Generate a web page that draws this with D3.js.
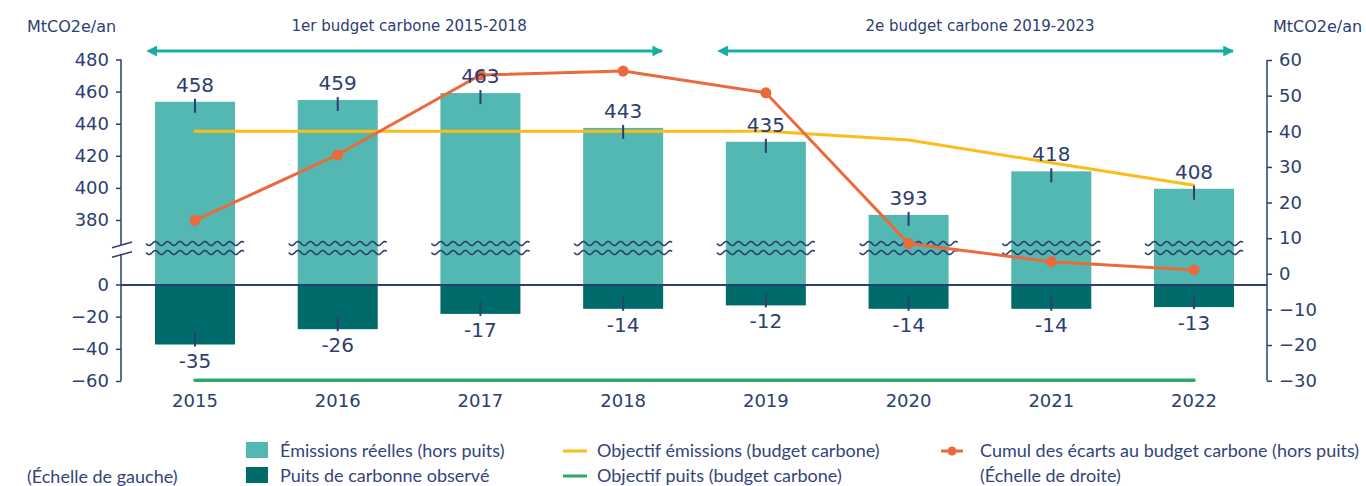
<!DOCTYPE html>
<meta charset="utf-8">
<style>
body { margin: 0; background: #fff; font-family: 'DejaVu Sans', sans-serif; }
.axis .domain { display: none; }
.axis text { font-family: 'DejaVu Sans', sans-serif; font-size: 18px; fill: #2d3e6f; }
.axis line { stroke: #2d3e6f; stroke-width: 1.5; }
.legend text { font-family: Lato, sans-serif; font-size: 18px; fill: #34447a; }
</style>
<svg width="1366" height="486"></svg>
<script src="https://d3js.org/d3.v7.min.js"></script>
<script>
// data
var years = ["2015", "2016", "2017", "2018", "2019", "2020", "2021", "2022"];
var emissions = [458, 459, 463, 443, 435, 393, 418, 408];
var puits = [-35, -26, -17, -14, -12, -14, -14, -13];
var objectifEmissions = [441, 441, 441, 441, 441, 436, 423, 410];
var objectifPuits = [-56, -56, -56, -56, -56, -56, -56, -56];
var cumulEcarts = [15.0, 33.4, 55.8, 56.9, 50.8, 8.5, 3.4, 1.1];
var leftTicksTop = [480, 460, 440, 420, 400, 380];
var leftTicksBottom = [0, -20, -40, -60];
var rightTicks = [60, 50, 40, 30, 20, 10, 0, -10, -20, -30];
var budgets = [
  {label: "1er budget carbone 2015-2018", from: "2015", to: "2018"},
  {label: "2e budget carbone 2019-2023", from: "2019", to: "2022"}
];

var navy = "#2d3e6f",
    teal = "#52b8b1",
    darkTeal = "#006b6b",
    yellow = "#fbbd16",
    orange = "#ea6a3c",
    green = "#2ea862",
    arrowTeal = "#17aea2";

var svg = d3.select("svg");
var barW = 80;

// scales
var x = d3.scalePoint().domain(years).range([195, 1194]);
var yTop = d3.scaleLinear().domain([380, 480]).range([237.5, 63.5]);     // marks above the break
var yTopAxis = d3.scaleLinear().domain([380, 480]).range([220, 59.5]);   // tick positions above the break
var yLow = d3.scaleLinear().domain([-60, 0]).range([387, 285]);          // marks below zero
var yLowAxis = d3.scaleLinear().domain([-60, 0]).range([381, 284.5]);    // tick positions below zero
var yRight = d3.scaleLinear().domain([-30, 60]).range([380.7, 60]);

var axisX = 121, axisRX = 1267;

// arrow markers
var defs = svg.append("defs");
["start", "end"].forEach(function(k) {
  defs.append("marker")
      .attr("id", "arr-" + k)
      .attr("viewBox", "0 0 10 10")
      .attr("refX", k == "end" ? 9 : 1).attr("refY", 5)
      .attr("markerWidth", 3.6).attr("markerHeight", 3.6)
      .attr("markerUnits", "strokeWidth")
      .attr("orient", "auto-start-reverse")
    .append("path")
      .attr("d", "M0,0 L10,5 L0,10 Z")
      .attr("fill", arrowTeal);
});

// budget periods
var b = svg.append("g").selectAll("g").data(budgets).enter().append("g");
b.append("line")
    .attr("x1", function(d) { return x(d.from) - barW / 2 + 1; })
    .attr("x2", function(d) { return x(d.to) + barW / 2 - 1; })
    .attr("y1", 51).attr("y2", 51)
    .attr("stroke", arrowTeal).attr("stroke-width", 3)
    .attr("marker-start", "url(#arr-start)")
    .attr("marker-end", "url(#arr-end)");
b.append("text")
    .attr("x", function(d) { return (x(d.from) + x(d.to)) / 2; })
    .attr("y", 31)
    .attr("text-anchor", "middle")
    .attr("font-size", 15)
    .attr("fill", navy)
    .text(function(d) { return d.label; });

// axis titles
svg.append("text").attr("x", 27).attr("y", 32).attr("font-size", 16).attr("fill", navy).text("MtCO2e/an");
svg.append("text").attr("x", 1273).attr("y", 32).attr("font-size", 16).attr("fill", navy).text("MtCO2e/an");

// bars
var bars = svg.append("g");
bars.selectAll("rect.em").data(emissions).enter().append("rect")
    .attr("x", function(d, i) { return x(years[i]) - barW / 2; })
    .attr("y", function(d) { return yTop(d); })
    .attr("width", barW)
    .attr("height", function(d) { return yLow(0) - yTop(d); })
    .attr("fill", teal);
bars.selectAll("rect.pu").data(puits).enter().append("rect")
    .attr("x", function(d, i) { return x(years[i]) - barW / 2; })
    .attr("y", yLow(0))
    .attr("width", barW)
    .attr("height", function(d) { return yLow(d) - yLow(0); })
    .attr("fill", darkTeal);

// break waves on each bar
function wave(x0, x1, y) {
  var pts = d3.range(x0, x1 + 0.5, 0.5).map(function(px) {
    return [px, y + 2 * Math.sin((px - x0) / 12.4 * 2 * Math.PI)];
  });
  return d3.line()(pts);
}
var waves = svg.append("g").attr("fill", "none").attr("stroke", navy).attr("stroke-width", 1.6);
years.forEach(function(yr) {
  [243.5, 252.5].forEach(function(yy) {
    waves.append("path").attr("d", wave(x(yr) - barW / 2 - 9, x(yr) + barW / 2 + 9, yy));
  });
});

// zero line
svg.append("line")
    .attr("x1", axisX).attr("x2", axisRX)
    .attr("y1", yLow(0)).attr("y2", yLow(0))
    .attr("stroke", navy).attr("stroke-width", 2);

// left axis (broken)
svg.append("g").attr("class", "axis")
    .attr("transform", "translate(" + axisX + ",0)")
    .call(d3.axisLeft(yTopAxis).tickValues(leftTicksTop).tickSize(5).tickPadding(7));
svg.append("g").attr("class", "axis")
    .attr("transform", "translate(" + axisX + ",0)")
    .call(d3.axisLeft(yLowAxis).tickValues(leftTicksBottom).tickSize(5).tickPadding(7));
svg.append("line").attr("x1", axisX).attr("x2", axisX).attr("y1", yTopAxis(480)).attr("y2", 245)
    .attr("stroke", navy).attr("stroke-width", 1.5);
svg.append("line").attr("x1", axisX).attr("x2", axisX).attr("y1", 254).attr("y2", yLowAxis(-60))
    .attr("stroke", navy).attr("stroke-width", 1.5);
[[247.7, 242], [257.3, 251.7]].forEach(function(s) {
  svg.append("line").attr("x1", 112).attr("x2", 132).attr("y1", s[0]).attr("y2", s[1])
      .attr("stroke", navy).attr("stroke-width", 1.5);
});

// right axis
var ra = svg.append("g").attr("class", "axis")
    .attr("transform", "translate(" + axisRX + ",0)")
    .call(d3.axisRight(yRight).tickValues(rightTicks).tickSize(5).tickSizeOuter(0).tickPadding(7));
ra.append("line").attr("x1", 0).attr("x2", 0).attr("y1", yRight(60)).attr("y2", yRight(-30))
    .attr("stroke", navy).attr("stroke-width", 1.5);

// year labels
svg.append("g").selectAll("text").data(years).enter().append("text")
    .attr("x", function(d) { return x(d); })
    .attr("y", 407)
    .attr("text-anchor", "middle")
    .attr("font-size", 18)
    .attr("fill", navy)
    .text(function(d) { return d; });

// objective lines
svg.append("path")
    .datum(objectifEmissions)
    .attr("fill", "none").attr("stroke", yellow).attr("stroke-width", 3).attr("stroke-linecap", "round")
    .attr("d", d3.line().x(function(d, i) { return x(years[i]); }).y(function(d) { return yTop(d); }));
svg.append("path")
    .datum(objectifPuits)
    .attr("fill", "none").attr("stroke", green).attr("stroke-width", 3.5).attr("stroke-linecap", "round")
    .attr("d", d3.line().x(function(d, i) { return x(years[i]); }).y(function(d) { return yLow(d); }));

// cumulative gap line (right scale)
svg.append("path")
    .datum(cumulEcarts)
    .attr("fill", "none").attr("stroke", orange).attr("stroke-width", 3)
    .attr("d", d3.line().x(function(d, i) { return x(years[i]); }).y(function(d) { return yRight(d); }));
svg.append("g").selectAll("circle").data(cumulEcarts).enter().append("circle")
    .attr("cx", function(d, i) { return x(years[i]); })
    .attr("cy", function(d) { return yRight(d); })
    .attr("r", 5.5)
    .attr("fill", orange);

// small uncertainty ticks at bar ends
var ticks = svg.append("g").attr("stroke", navy).attr("stroke-width", 2);
emissions.forEach(function(v, i) {
  ticks.append("line").attr("x1", x(years[i])).attr("x2", x(years[i]))
      .attr("y1", yTop(v) - 3).attr("y2", yTop(v) + 11);
});
puits.forEach(function(v, i) {
  ticks.append("line").attr("x1", x(years[i])).attr("x2", x(years[i]))
      .attr("y1", yLow(v) - 12).attr("y2", yLow(v) + 2);
});

// value labels
svg.append("g").selectAll("text").data(emissions).enter().append("text")
    .attr("x", function(d, i) { return x(years[i]); })
    .attr("y", function(d) { return yTop(d) - 10; })
    .attr("text-anchor", "middle").attr("font-size", 20).attr("fill", navy)
    .text(function(d) { return d; });
svg.append("g").selectAll("text").data(puits).enter().append("text")
    .attr("x", function(d, i) { return x(years[i]); })
    .attr("y", function(d) { return yLow(d) + 23; })
    .attr("text-anchor", "middle").attr("font-size", 20).attr("fill", navy)
    .text(function(d) { return d; });

// legend
var lg = svg.append("g").attr("class", "legend");
lg.append("rect").attr("x", 246).attr("y", 442).attr("width", 22).attr("height", 16).attr("fill", teal);
lg.append("text").attr("x", 280).attr("y", 457).text("Émissions réelles (hors puits)");
lg.append("rect").attr("x", 246).attr("y", 467).attr("width", 22).attr("height", 16).attr("fill", darkTeal);
lg.append("text").attr("x", 280).attr("y", 482).text("Puits de carbonne observé");
lg.append("line").attr("x1", 563).attr("x2", 587).attr("y1", 451).attr("y2", 451).attr("stroke", yellow).attr("stroke-width", 3);
lg.append("text").attr("x", 597).attr("y", 457).text("Objectif émissions (budget carbone)");
lg.append("line").attr("x1", 563).attr("x2", 587).attr("y1", 476).attr("y2", 476).attr("stroke", green).attr("stroke-width", 3);
lg.append("text").attr("x", 597).attr("y", 482).text("Objectif puits (budget carbone)");
lg.append("line").attr("x1", 941).attr("x2", 963).attr("y1", 451).attr("y2", 451).attr("stroke", orange).attr("stroke-width", 3);
lg.append("circle").attr("cx", 952).attr("cy", 451).attr("r", 4.5).attr("fill", orange);
lg.append("text").attr("x", 980).attr("y", 457).text("Cumul des écarts au budget carbone (hors puits)");
lg.append("text").attr("x", 980).attr("y", 482).text("(Échelle de droite)");
lg.append("text").attr("x", 27).attr("y", 483).text("(Échelle de gauche)");
</script>
